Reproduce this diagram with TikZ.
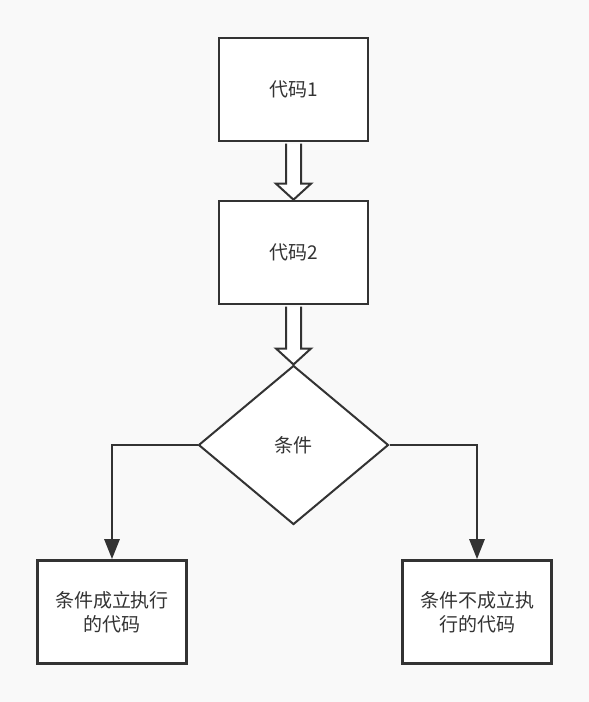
\documentclass[tikz,border=0pt]{standalone}
\usepackage{fontspec}
\newfontfamily\cjk{Noto Sans CJK SC}
\usetikzlibrary{shapes.geometric,arrows.meta,calc}
\definecolor{linegray}{HTML}{333333}
\definecolor{bggray}{HTML}{F9F9F9}
% hollow block arrow between two anchors
\newcommand{\hollowarrow}[2]{%
  \draw[hollow] ($(#1)+(-7.5,1.3)$) -- ($(#2)+(-7.5,-16)$) -- ($(#2)+(-17.5,-16)$)
    -- (#2) -- ($(#2)+(17.5,-16)$) -- ($(#2)+(7.5,-16)$) -- ($(#1)+(7.5,1.3)$);}
\begin{document}
\begin{tikzpicture}[x=1pt,y=-1pt,
    box/.style={draw=linegray,fill=white,line width=2.6pt,minimum width=149pt,
      minimum height=103pt,inner sep=0pt,align=center,text=linegray,
      font=\cjk\fontsize{19}{24.5}\selectfont},
    decision/.style={box,diamond,line width=2pt,minimum width=190pt,minimum height=159pt},
    flow/.style={draw=linegray,line width=2.8pt,-{Triangle[length=20pt,width=15pt]}},
    hollow/.style={draw=linegray,fill=white,line width=2pt,line join=miter}]
  \fill[bggray] (0,0) rectangle (589,702);
  \useasboundingbox (0,0) rectangle (589,702);
  \node[box] (code1) at (293.5,89.5) {代码1};
  \node[box] (code2) at (293.5,252.5) {代码2};
  \node[decision] (cond) at (293.5,445) {条件};
  \node[box] (yes) at (112,612) {条件成立执行\\的代码};
  \node[box] (no) at (477,612) {条件不成立执\\行的代码};
  \hollowarrow{code1.south}{code2.north}
  \hollowarrow{code2.south}{cond.north}
  \draw[flow] (cond.west) -| (yes.north);
  \draw[flow] (cond.east) -| (no.north);
\end{tikzpicture}
\end{document}
